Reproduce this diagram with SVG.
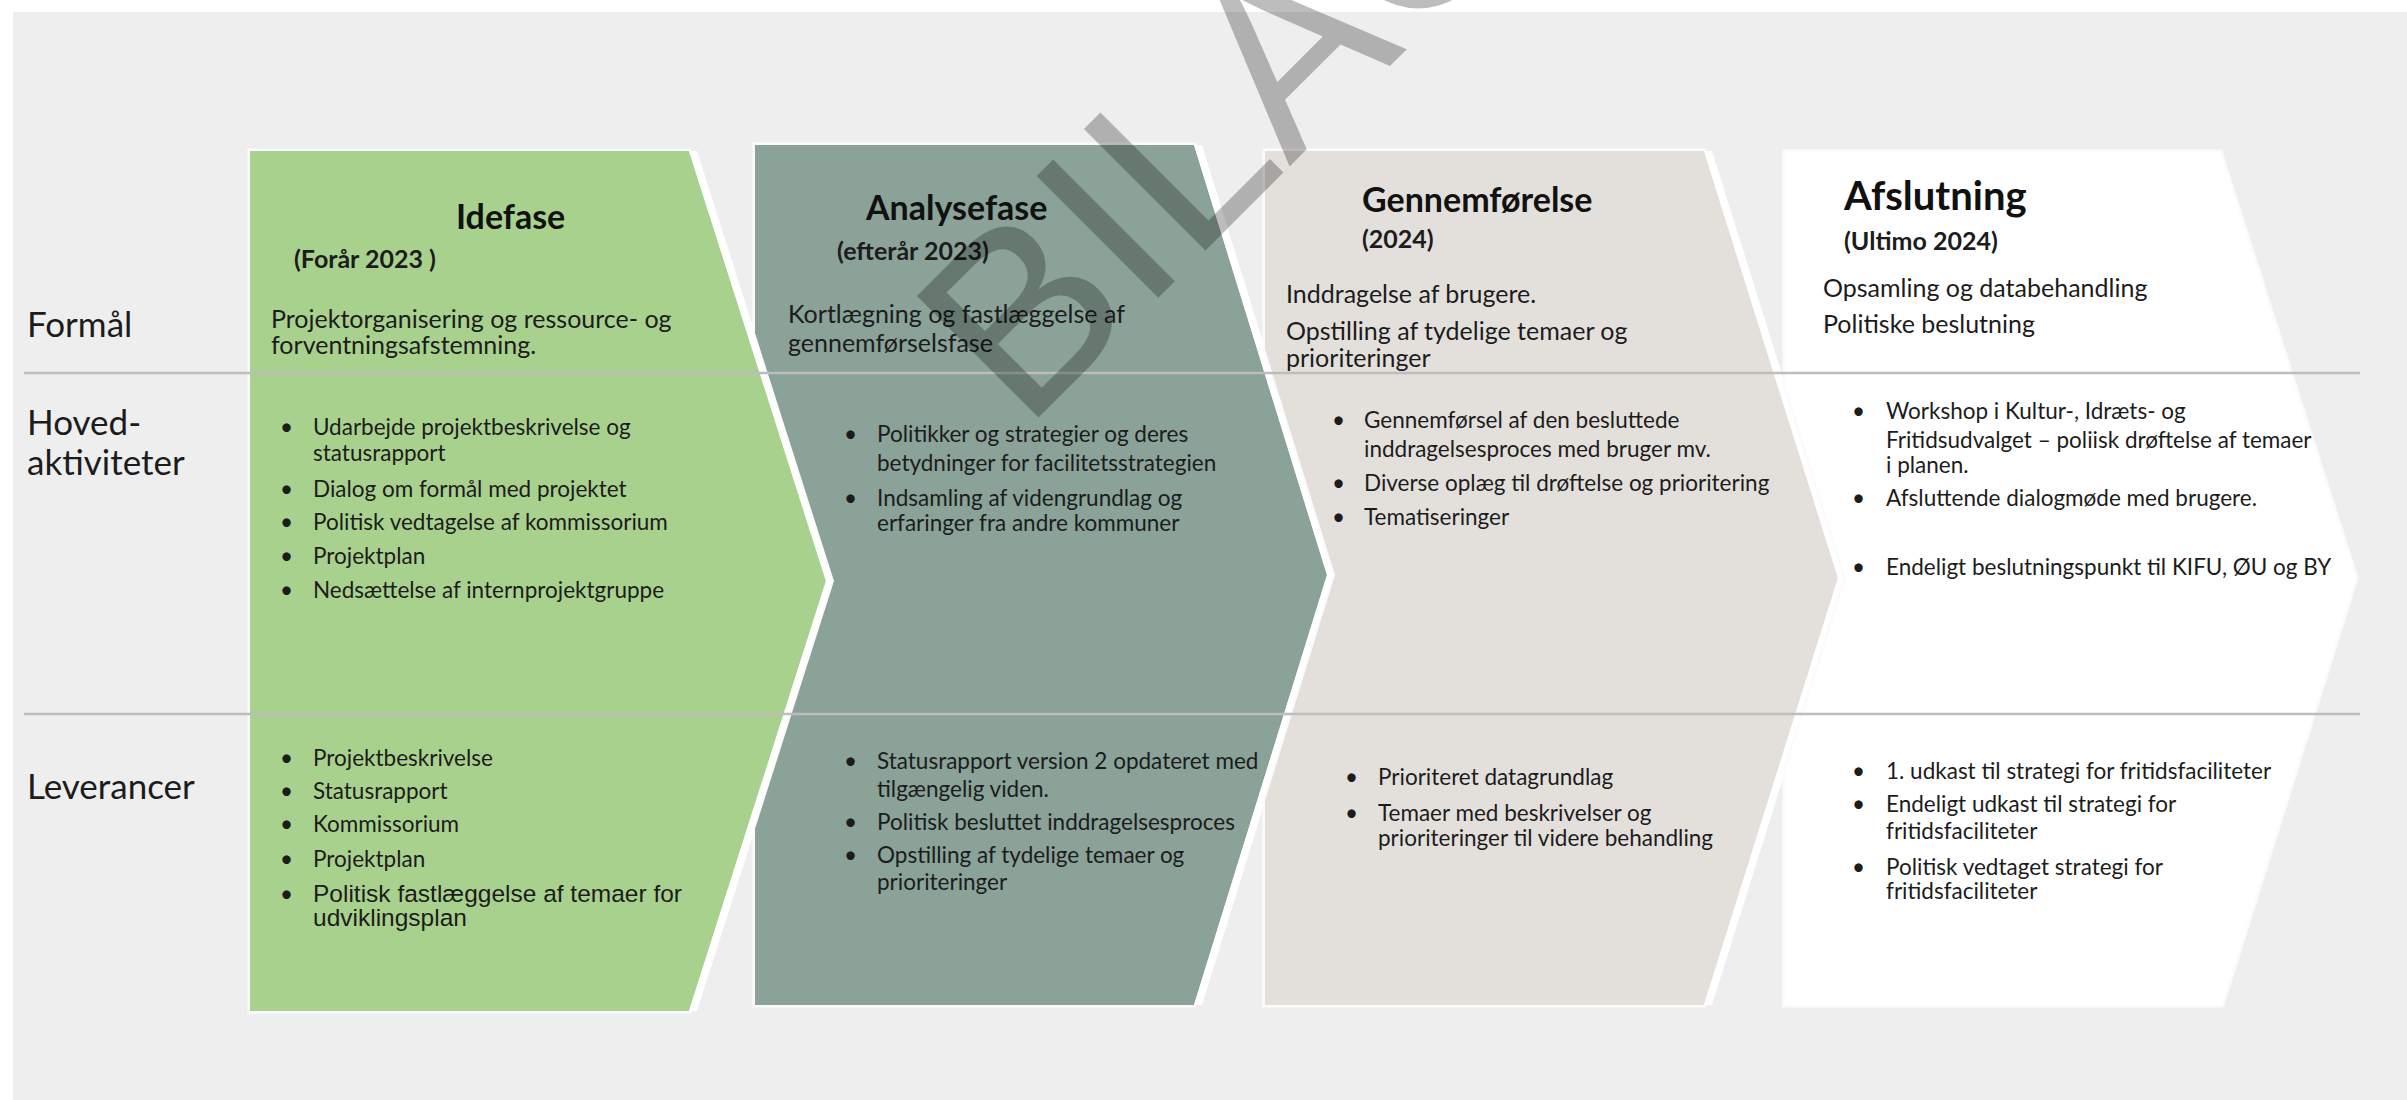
<svg xmlns="http://www.w3.org/2000/svg" width="2407" height="1100" viewBox="0 0 2407 1100">
<style>
text{font-family:Lato,"Liberation Sans",sans-serif;fill:#1c1c1c}
.lbl{font-size:35px}
.ttl{font-size:34px;font-weight:700;fill:#111}
.ttl2{font-size:40px;font-weight:700;fill:#111}
.sub{font-size:25px;font-weight:700}
.fm{font-size:25px}
.bl{font-size:22.5px}
.ar{font-family:"Liberation Sans",Arial,sans-serif;font-size:24.5px}
.halo{fill:none;stroke:#fbfbfb;stroke-width:5;stroke-linejoin:miter}
.gap{fill:#ffffff}
.div{stroke:#bdbdbd;stroke-width:2.5}
.wm{font-family:"Liberation Sans",Arial,sans-serif;font-size:250px;fill:#000;fill-opacity:0.26}
</style>
<rect x="0" y="0" width="2407" height="1100" fill="#fff"/>
<rect x="13" y="12" width="2394" height="1088" fill="#eeeeee"/>

<g id="row-labels">
<text class="lbl" x="27" y="337">Formål</text>
<text class="lbl" x="27" y="435">Hoved-</text>
<text class="lbl" x="27" y="475">aktiviteter</text>
<text class="lbl" x="27" y="799">Leverancer</text>
</g>

<g id="idefase">
<polygon class="halo" points="250,151 689,151 826,581 689,1011 250,1011"/>
<polygon fill="#a9d18e" points="250,151 689,151 826,581 689,1011 250,1011"/>
</g>
<g id="analysefase">
<polygon class="gap" points="689,151 826,581 689,1011 697,1011 834,581 697,151"/>
<polygon class="halo" points="755,145 1194,145 1327,575 1194,1005 755,1005 755,829 834,581 755,333"/>
<polygon fill="#8aa298" points="755,145 1194,145 1327,575 1194,1005 755,1005 755,829 834,581 755,333"/>
</g>
<g id="gennemfoerelse">
<polygon class="gap" points="1194,145 1327,575 1194,1005 1202,1005 1335,575 1202,145"/>
<polygon class="halo" points="1265,151 1704,151 1838,578 1704,1005 1265,1005 1265,801 1335,575 1265,349"/>
<polygon fill="#e3e0dc" points="1265,151 1704,151 1838,578 1704,1005 1265,1005 1265,801 1335,575 1265,349"/>
</g>
<g id="afslutning">
<polygon class="gap" points="1704,151 1838,578 1704,1005 1712,1005 1846,578 1712,151"/>
<polygon class="halo" points="1785,152 2220,152 2356,578 2222,1005 1785,1005 1785,772 1846,578 1785,384"/>
<polygon fill="#ffffff" points="1785,152 2220,152 2356,578 2222,1005 1785,1005 1785,772 1846,578 1785,384"/>
</g>

<g id="dividers">
<line class="div" x1="24" y1="373" x2="2360" y2="373"/>
<line class="div" x1="24" y1="714" x2="2360" y2="714"/>
</g>

<g id="idefase-text">
<text class="ttl" x="456" y="229">Idefase</text>
<text class="sub" x="294" y="268">(Forår 2023 )</text>
<text class="fm" x="271" y="328">Projektorganisering og ressource- og</text>
<text class="fm" x="271" y="354">forventningsafstemning.</text>
<text class="bl" x="280" y="435">•</text><text class="bl" x="313" y="435">Udarbejde projektbeskrivelse og</text>
<text class="bl" x="313" y="461">statusrapport</text>
<text class="bl" x="280" y="497">•</text><text class="bl" x="313" y="497">Dialog om formål med projektet</text>
<text class="bl" x="280" y="530">•</text><text class="bl" x="313" y="530">Politisk vedtagelse af kommissorium</text>
<text class="bl" x="280" y="564">•</text><text class="bl" x="313" y="564">Projektplan</text>
<text class="bl" x="280" y="598">•</text><text class="bl" x="313" y="598">Nedsættelse af internprojektgruppe</text>
<text class="bl" x="280" y="766">•</text><text class="bl" x="313" y="766">Projektbeskrivelse</text>
<text class="bl" x="280" y="799">•</text><text class="bl" x="313" y="799">Statusrapport</text>
<text class="bl" x="280" y="832">•</text><text class="bl" x="313" y="832">Kommissorium</text>
<text class="bl" x="280" y="867">•</text><text class="bl" x="313" y="867">Projektplan</text>
<text class="bl" x="280" y="902">•</text><text class="ar" x="313" y="902">Politisk fastlæggelse af temaer for</text>
<text class="ar" x="313" y="926">udviklingsplan</text>
</g>

<g id="analysefase-text">
<text class="ttl" x="866" y="220">Analysefase</text>
<text class="sub" x="837" y="260">(efterår 2023)</text>
<text class="fm" x="788" y="323">Kortlægning og fastlæggelse af</text>
<text class="fm" x="788" y="352">gennemførselsfase</text>
<text class="bl" x="844" y="442">•</text><text class="bl" x="877" y="442">Politikker og strategier og deres</text>
<text class="bl" x="877" y="471">betydninger for facilitetsstrategien</text>
<text class="bl" x="844" y="506">•</text><text class="bl" x="877" y="506">Indsamling af videngrundlag og</text>
<text class="bl" x="877" y="531">erfaringer fra andre kommuner</text>
<text class="bl" x="844" y="769">•</text><text class="bl" x="877" y="769">Statusrapport version 2 opdateret med</text>
<text class="bl" x="877" y="797">tilgængelig viden.</text>
<text class="bl" x="844" y="830">•</text><text class="bl" x="877" y="830">Politisk besluttet inddragelsesproces</text>
<text class="bl" x="844" y="863">•</text><text class="bl" x="877" y="863">Opstilling af tydelige temaer og</text>
<text class="bl" x="877" y="890">prioriteringer</text>
</g>

<g id="gennemfoerelse-text">
<text class="ttl" x="1362" y="212">Gennemførelse</text>
<text class="sub" x="1362" y="248">(2024)</text>
<text class="fm" x="1286" y="303">Inddragelse af brugere.</text>
<text class="fm" x="1286" y="340">Opstilling af tydelige temaer og</text>
<text class="fm" x="1286" y="367">prioriteringer</text>
<text class="bl" x="1332" y="428">•</text><text class="bl" x="1364" y="428">Gennemførsel af den besluttede</text>
<text class="bl" x="1364" y="457">inddragelsesproces med bruger mv.</text>
<text class="bl" x="1332" y="491">•</text><text class="bl" x="1364" y="491">Diverse oplæg til drøftelse og prioritering</text>
<text class="bl" x="1332" y="525">•</text><text class="bl" x="1364" y="525">Tematiseringer</text>
<text class="bl" x="1345" y="785">•</text><text class="bl" x="1378" y="785">Prioriteret datagrundlag</text>
<text class="bl" x="1345" y="821">•</text><text class="bl" x="1378" y="821">Temaer med beskrivelser og</text>
<text class="bl" x="1378" y="846">prioriteringer til videre behandling</text>
</g>

<g id="afslutning-text">
<text class="ttl2" x="1844" y="210">Afslutning</text>
<text class="sub" x="1844" y="250">(Ultimo 2024)</text>
<text class="fm" x="1823" y="297">Opsamling og databehandling</text>
<text class="fm" x="1823" y="333">Politiske beslutning</text>
<text class="bl" x="1852" y="419">•</text><text class="bl" x="1886" y="419">Workshop i Kultur-, Idræts- og</text>
<text class="bl" x="1886" y="448">Fritidsudvalget – poliisk drøftelse af temaer</text>
<text class="bl" x="1886" y="473">i planen.</text>
<text class="bl" x="1852" y="506">•</text><text class="bl" x="1886" y="506">Afsluttende dialogmøde med brugere.</text>
<text class="bl" x="1852" y="575">•</text><text class="bl" x="1886" y="575">Endeligt beslutningspunkt til KIFU, ØU og BY</text>
<text class="bl" x="1852" y="779">•</text><text class="bl" x="1886" y="779">1. udkast til strategi for fritidsfaciliteter</text>
<text class="bl" x="1852" y="812">•</text><text class="bl" x="1886" y="812">Endeligt udkast til strategi for</text>
<text class="bl" x="1886" y="839">fritidsfaciliteter</text>
<text class="bl" x="1852" y="875">•</text><text class="bl" x="1886" y="875">Politisk vedtaget strategi for</text>
<text class="bl" x="1886" y="899">fritidsfaciliteter</text>
</g>

<g id="watermark">
<text class="wm" x="1024" y="432" transform="rotate(-45 1024 432)">BILAG</text>
</g>
</svg>
